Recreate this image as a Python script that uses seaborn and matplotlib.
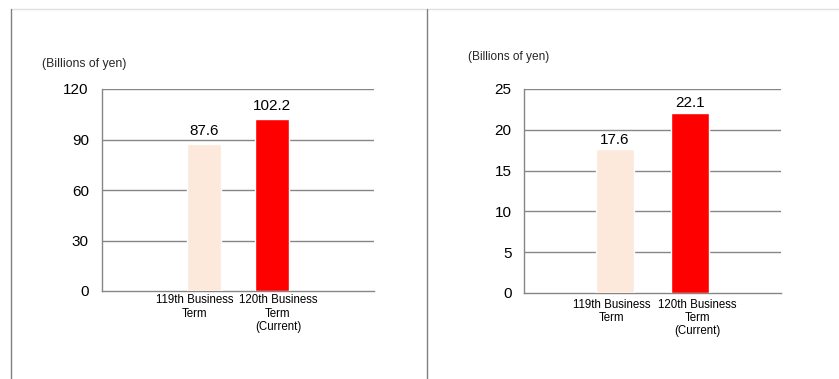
import matplotlib
matplotlib.use("Agg")
import matplotlib.pyplot as plt
import matplotlib.transforms as mtransforms
import seaborn as sns
import pandas as pd
from matplotlib.lines import Line2D

categories = ["119th Business\nTerm", "120th Business\nTerm\n(Current)"]
left_values = [87.6, 102.2]
right_values = [17.6, 22.1]
left_ticks = [0, 30, 60, 90, 120]
right_ticks = [0, 5, 10, 15, 20, 25]
unit_label = "(Billions of yen)"
bar_colors = ["#FCE9DC", "#FF0000"]

sns.set_theme(style="white")
plt.rcParams['font.family'] = ['Liberation Sans', 'DejaVu Sans']

fig = plt.figure(figsize=(8.39, 3.79), dpi=100)
W, H = 839, 379

def px_axes(x0, y0, x1, y1):
    return fig.add_axes([x0 / W, 1 - y1 / H, (x1 - x0) / W, (y1 - y0) / H])

grid_color = "#868686"

def draw(ax, values, ticks, xlim, label_dx, label_pad, value_dy, ytick_pad):
    df = pd.DataFrame({"cat": categories, "val": values})
    sns.barplot(data=df, x="cat", y="val", hue="cat", palette=bar_colors,
                width=0.5, legend=False, ax=ax, zorder=3, saturation=1)
    ax.set_ylim(ticks[0], ticks[-1])
    ax.set_yticks(ticks)
    ax.set_xlim(*xlim)
    ax.set_xlabel("")
    ax.set_ylabel("")
    for t in ticks[1:]:
        ax.axhline(t, color=grid_color, lw=1.0, zorder=1)
    for s in ["top", "right"]:
        ax.spines[s].set_visible(False)
    for s in ["left", "bottom"]:
        ax.spines[s].set_color(grid_color)
        ax.spines[s].set_linewidth(1.0)
    ax.tick_params(axis="y", labelsize=11, length=0, pad=ytick_pad, colors="#000000")
    ax.tick_params(axis="x", labelsize=8.3, length=0, pad=label_pad, colors="#000000")
    for tick, dx in zip(ax.xaxis.get_major_ticks(), label_dx):
        lbl = tick.label1
        lbl.set_linespacing(1.15)
        off = mtransforms.ScaledTranslation(dx / 100, 0, fig.dpi_scale_trans)
        lbl.set_transform(lbl.get_transform() + off)
    for i, v in enumerate(values):
        ax.annotate(f"{v:.1f}", xy=(i, v), xytext=(0, value_dy * 0.72),
                    textcoords="offset points", ha="center", va="center",
                    fontsize=11, color="#000000")

axL = px_axes(102, 89, 374, 291)
draw(axL, left_values, left_ticks, (-1.5, 2.5), (-9, 6), 2.5, 13, 9.5)
fig.text(42 / W, 1 - 64 / H, unit_label, fontsize=8.8, ha="left", va="center")

axR = px_axes(524, 89, 781, 293)
draw(axR, right_values, right_ticks, (-1.21, 2.21), (-3.5, 7), 4.0, 9.5, 9)
fig.text(468 / W, 1 - 57 / H, unit_label, fontsize=8.6, ha="left", va="center")

# frame lines
fig.add_artist(Line2D([11 / W, 1], [1 - 9 / H, 1 - 9 / H], color="#E0E0E0", lw=1.0))
fig.add_artist(Line2D([11 / W, 11 / W], [1 - 9 / H, 0], color="#808080", lw=1.0))
fig.add_artist(Line2D([427 / W, 427 / W], [1 - 9 / H, 0], color="#808080", lw=1.0))

fig.savefig("out.png", dpi=100)
